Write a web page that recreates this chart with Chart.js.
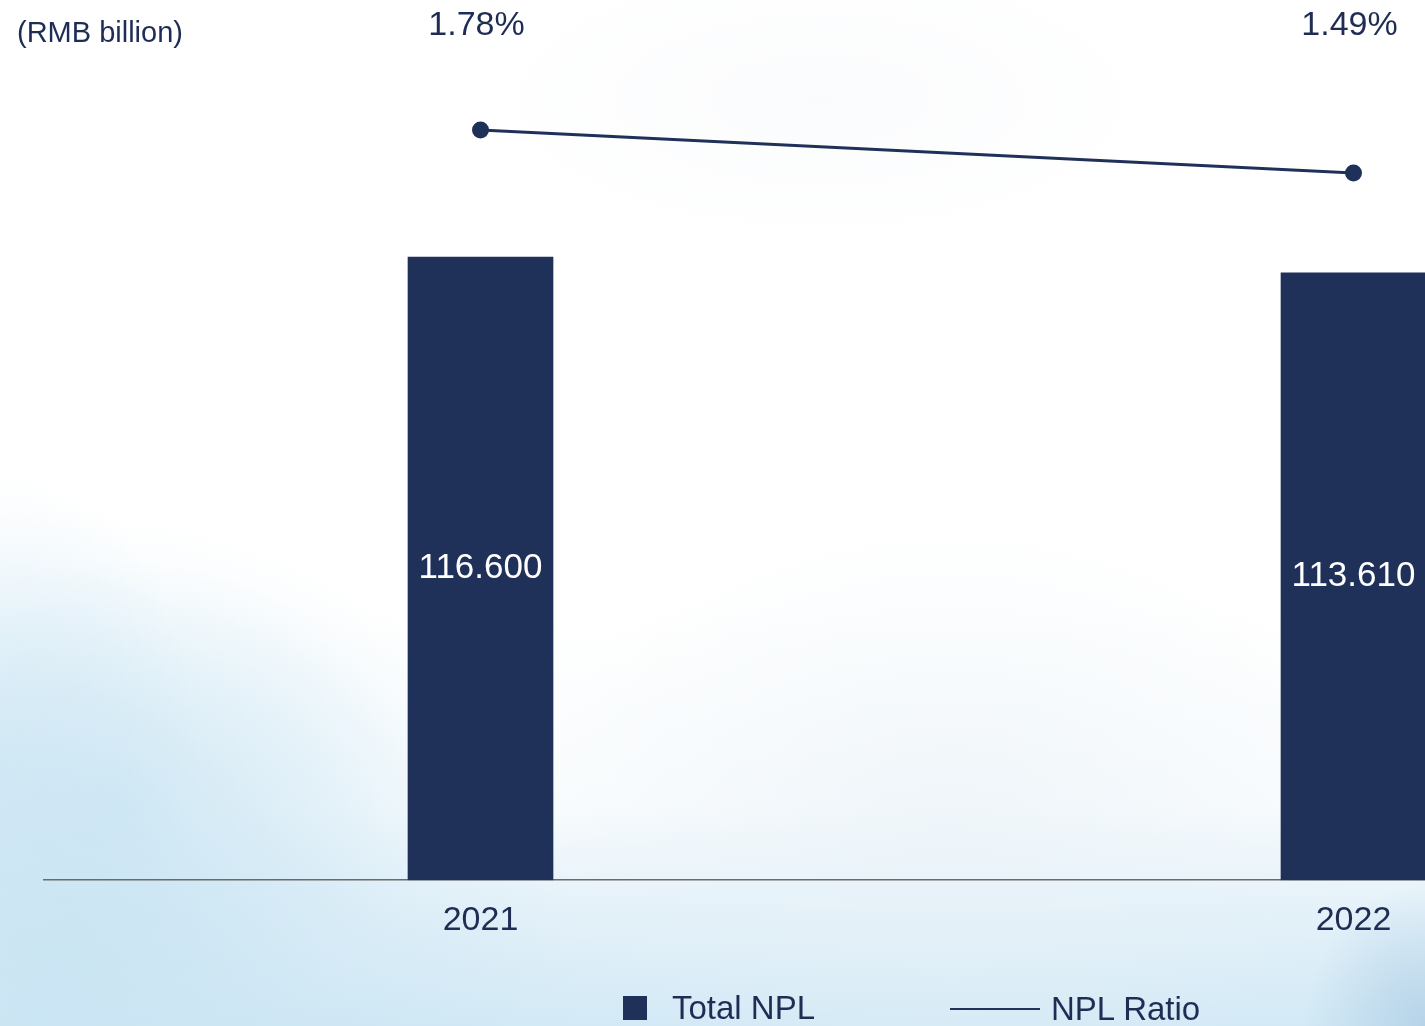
<!DOCTYPE html>
<html>
<head>
<meta charset="utf-8">
<script src="https://cdn.jsdelivr.net/npm/chart.js@4.4.1/dist/chart.umd.min.js"></script>
<style>
  html, body { margin: 0; padding: 0; width: 1425px; height: 1026px; overflow: hidden; }
  body {
    position: relative;
    font-family: "Liberation Sans", Arial, sans-serif;
    background:
      radial-gradient(ellipse 120px 140px at 1425px 1026px, rgba(172,204,228,0.75), rgba(172,204,228,0) 100%),
      radial-gradient(ellipse 300px 240px at 120px 800px, rgba(196,226,242,0.55), rgba(196,226,242,0) 100%),
      radial-gradient(ellipse 520px 460px at 60px 970px, rgba(200,228,243,0.8), rgba(200,228,243,0) 100%),
      radial-gradient(ellipse 200px 300px at 0px 770px, rgba(214,234,246,0.7), rgba(214,234,246,0) 100%),
      radial-gradient(ellipse 420px 300px at 950px 820px, rgba(232,241,247,0.55), rgba(232,241,247,0) 100%),
      radial-gradient(ellipse 360px 150px at 820px 100px, rgba(240,244,248,0.3), rgba(240,244,248,0) 100%),
      linear-gradient(to top, rgba(208,232,245,0.95) 0px, rgba(218,236,247,0.75) 110px, rgba(236,245,250,0.35) 220px, rgba(255,255,255,0) 420px),
      #ffffff;
  }
  #wrap { position: absolute; left: 0; top: 0; width: 1820px; height: 1026px; }
  #unit { position: absolute; left: 17px; top: 16px; font-size: 29px; color: #1f2d55; }
  #legend { position: absolute; top: 990px; left: 0; width: 1425px; height: 36px; font-size: 33px; color: #1f2d55; }
  #legend .item { position: absolute; top: 0; display: flex; align-items: center; height: 36px; }
  #legend .sq { width: 24px; height: 24px; background: #1f3059; margin-right: 25px; }
  #legend .ln { width: 90px; height: 2px; background: #1f3059; margin-right: 11px; }
</style>
</head>
<body>
<div id="wrap"><canvas id="c" width="1820" height="1026"></canvas></div>
<div id="unit">(RMB billion)</div>
<div id="legend">
  <div class="item" style="left:623px"><span class="sq"></span><span id="lg0"></span></div>
  <div class="item" style="left:950px;top:1px"><span class="ln"></span><span id="lg1"></span></div>
</div>
<script>
// Total non-performing loans (RMB billion) and NPL ratio (%)
const years = ['2021', '2022'];
const totalNpl = [116.600, 113.610];
const nplRatio = [1.78, 1.49];
const seriesNames = ['Total NPL', 'NPL Ratio'];

const navy = '#1f3059';
const textNavy = '#1f2d55';
const font = '"Liberation Sans", Arial, sans-serif';

document.getElementById('lg0').textContent = seriesNames[0];
document.getElementById('lg1').textContent = seriesNames[1];

// value labels: white figures centred in each bar, percentages along the top
const valueLabels = {
  id: 'valueLabels',
  afterDatasetsDraw(chart) {
    const ctx = chart.ctx;
    ctx.save();
    ctx.textAlign = 'center';
    ctx.textBaseline = 'middle';

    ctx.font = '35px ' + font;
    const bars = chart.getDatasetMeta(0).data;
    bars.forEach((bar, i) => {
      const mid = (bar.y + bar.base) / 2;
      ctx.fillStyle = '#ffffff';
      ctx.fillText(totalNpl[i].toFixed(3), bar.x, mid);
    });

    ctx.font = '34px ' + font;
    const pts = chart.getDatasetMeta(1).data;
    pts.forEach((p, i) => {
      ctx.fillStyle = textNavy;
      ctx.fillText(nplRatio[i].toFixed(2) + '%', p.x - 4, 26);
    });
    ctx.restore();
  }
};

new Chart(document.getElementById('c'), {
  type: 'bar',
  data: {
    labels: years,
    datasets: [
      {
        type: 'bar',
        label: seriesNames[0],
        data: totalNpl,
        backgroundColor: navy,
        barThickness: 145,
        yAxisID: 'y',
        order: 2
      },
      {
        type: 'line',
        label: seriesNames[1],
        data: nplRatio,
        borderColor: navy,
        backgroundColor: navy,
        borderWidth: 3,
        pointRadius: 7,
        pointHoverRadius: 7,
        tension: 0,
        yAxisID: 'y1',
        order: 1
      }
    ]
  },
  options: {
    responsive: false,
    animation: false,
    layout: { padding: { left: 44, right: 30, top: 25, bottom: 65 } },
    plugins: {
      legend: { display: false },
      tooltip: { enabled: false }
    },
    scales: {
      x: {
        offset: true,
        grid: { display: false, drawTicks: false },
        border: { display: true, color: '#6b6b6b', width: 1.5 },
        ticks: { color: textNavy, font: { family: font, size: 34 }, padding: 20 }
      },
      y: {
        display: false,
        min: 0,
        max: 160
      },
      y1: {
        display: false,
        position: 'right',
        min: -3.27,
        max: 2.486
      }
    }
  },
  plugins: [valueLabels]
});
</script>
</body>
</html>
